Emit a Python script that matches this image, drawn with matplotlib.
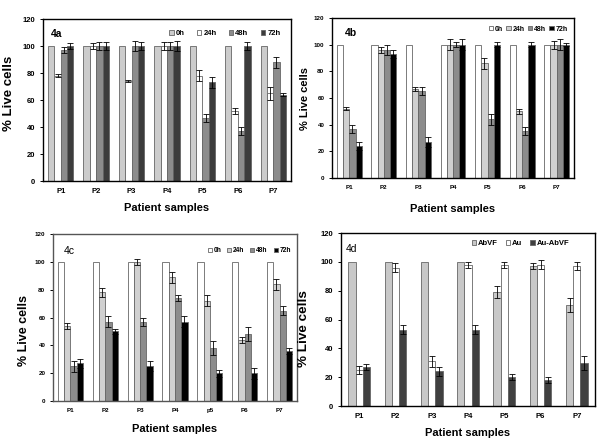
import numpy as np
import matplotlib.pyplot as plt

plt.rcParams["font.family"] = ["Liberation Sans", "DejaVu Sans"]

CATS = ["P1", "P2", "P3", "P4", "P5", "P6", "P7"]
CATS_C = ["P1", "P2", "P3", "P4", "p5", "P6", "P7"]

# panel 4a
A_LABELS = ["0h", "24h", "48h", "72h"]
A_VALS = [
    [100, 100, 100, 100, 100, 100, 100],
    [78, 100, 74, 100, 78, 52, 65],
    [97, 100, 100, 100, 47, 37, 88],
    [100, 100, 100, 100, 73, 100, 64],
]
A_ERR = [
    [0, 0, 0, 0, 0, 0, 0],
    [1, 2, 1, 3, 4, 2, 5],
    [2, 3, 4, 3, 3, 3, 4],
    [2, 3, 3, 4, 4, 3, 1],
]

# panel 4b
B_LABELS = ["0h", "24h", "48h", "72h"]
B_VALS = [
    [100, 100, 100, 100, 100, 100, 100],
    [52, 96, 67, 100, 86, 50, 100],
    [37, 96, 65, 100, 44, 35, 100],
    [24, 93, 27, 100, 100, 100, 100],
]
B_ERR = [
    [0, 0, 0, 0, 0, 0, 0],
    [1, 2, 1.5, 4, 4, 2, 3],
    [3, 4, 3, 2, 4, 3, 4],
    [3, 3, 4, 4, 2, 2, 1],
]

# panel 4c
C_LABELS = ["0h", "24h", "48h", "72h"]
C_VALS = [
    [100, 100, 100, 100, 100, 100, 100],
    [54, 78, 100, 89, 72, 44, 84],
    [25, 57, 57, 74, 38, 48, 65],
    [27, 50, 25, 57, 20, 20, 36],
]
C_ERR = [
    [0, 0, 0, 0, 0, 0, 0],
    [2, 3, 2, 4, 4, 2, 4],
    [4, 4, 3, 2, 5, 5, 3],
    [3, 1.5, 3.5, 4, 2.5, 4, 2],
]

# panel 4d
D_LABELS = ["AbVF", "Au", "Au-AbVF"]
D_VALS = [
    [100, 100, 100, 100, 79, 97, 70],
    [25, 96, 31, 98, 98, 98, 97],
    [27, 53, 24, 53, 20, 18, 30],
]
D_ERR = [
    [0, 0, 0, 0, 4, 2, 5],
    [3, 3, 4, 2, 2, 3, 3],
    [2, 3, 3, 3, 2, 2, 5],
]


def draw_panel(ax, vals, errs, labels, colors, cats, width, style):
    x = np.arange(len(cats))
    n = len(vals)
    for i in range(n):
        off = (i - (n - 1) / 2) * width
        ax.bar(x + off, vals[i], width, color=colors[i], edgecolor="#666666",
               linewidth=0.6, label=labels[i])
        e = np.array(errs[i])
        m = e > 0
        ax.errorbar((x + off)[m], np.array(vals[i])[m], yerr=e[m], fmt="none",
                    ecolor="black", elinewidth=0.6, capsize=2, capthick=0.6)
    ax.set_xlim(-0.5, len(cats) - 0.5)
    ax.set_ylim(0, 120)
    ax.set_yticks(range(0, 121, 20))
    ax.set_xticks(x)
    ax.set_xticklabels(cats, fontweight="bold", fontsize=style["tick"])
    ax.tick_params(axis="x", length=0, pad=5)
    ax.tick_params(axis="y", labelsize=style["tick"], length=2.5, width=0.7, pad=3)
    for t in ax.get_yticklabels():
        t.set_fontweight("bold")
    for s in ax.spines.values():
        s.set_linewidth(1.0)
        s.set_color(style.get("spine", "black"))
    ax.set_xlabel("Patient samples", fontweight="bold", fontsize=8)
    ax.xaxis.set_label_coords(0.5, style["xlab_y"])
    ax.set_ylabel("% Live cells", fontweight="bold", fontsize=style["ylab"])
    ax.yaxis.set_label_coords(style["ylab_x"], style["ylab_y"])
    ax.text(style["let_x"], style["let_y"], style["letter"], transform=ax.transAxes,
            fontweight=style["let_w"], fontsize=7.5, va="center")
    ax.legend(loc="center right", ncol=n, frameon=False,
              handlelength=0.6, handleheight=0.6, handletextpad=0.25,
              columnspacing=style["colsp"], borderaxespad=0,
              prop={"weight": "bold", "size": style["leg"]},
              bbox_to_anchor=(style["leg_x"], style["leg_y"]))


fig = plt.figure(figsize=(6, 4.48), dpi=100)
fig.patch.set_facecolor("white")

ax_a = fig.add_axes([43 / 600, 1 - 181 / 448, 248 / 600, 162 / 448])
draw_panel(ax_a, A_VALS, A_ERR, A_LABELS, ["#cccccc", "white", "#8c8c8c", "#3c3c3c"],
           CATS, 0.18,
           dict(tick=5.5, ylab=9.5, ylab_x=-0.113, ylab_y=0.54, xlab_y=-0.136,
                letter="4a", let_x=0.03, let_y=0.91, let_w="bold", leg=5.5,
                colsp=1.6, leg_x=0.97, leg_y=0.91))

ax_b = fig.add_axes([332 / 600, 1 - 178 / 448, 242 / 600, 160 / 448])
draw_panel(ax_b, B_VALS, B_ERR, B_LABELS, ["white", "#d0d0d0", "#8c8c8c", "black"],
           CATS, 0.18,
           dict(tick=4.5, ylab=8, ylab_x=-0.091, ylab_y=0.5, xlab_y=-0.163,
                letter="4b", let_x=0.054, let_y=0.906, let_w="bold", leg=5,
                colsp=0.5, leg_x=0.985, leg_y=0.93))

ax_c = fig.add_axes([53 / 600, 1 - 401 / 448, 244 / 600, 167 / 448])
draw_panel(ax_c, C_VALS, C_ERR, C_LABELS, ["white", "#d0d0d0", "#8c8c8c", "black"],
           CATS_C, 0.18,
           dict(tick=4.5, ylab=9, ylab_x=-0.094, ylab_y=0.42, xlab_y=-0.138,
                letter="4c", let_x=0.045, let_y=0.90, let_w="normal", leg=4.8,
                colsp=0.9, leg_x=0.985, leg_y=0.90, spine="#555555"))

ax_d = fig.add_axes([341 / 600, 1 - 406 / 448, 254 / 600, 173 / 448])
draw_panel(ax_d, D_VALS, D_ERR, D_LABELS, ["#c8c8c8", "white", "#404040"],
           CATS, 0.2,
           dict(tick=5.5, ylab=9.7, ylab_x=-0.122, ylab_y=0.445, xlab_y=-0.127,
                letter="4d", let_x=0.02, let_y=0.91, let_w="normal", leg=5.5,
                colsp=1.0, leg_x=0.91, leg_y=0.94))

fig.savefig("out.png", dpi=100)
